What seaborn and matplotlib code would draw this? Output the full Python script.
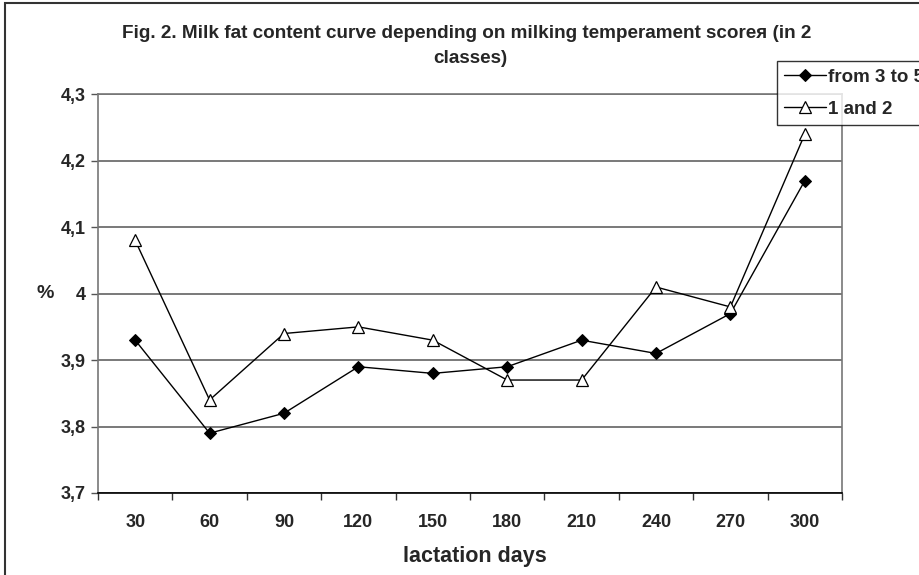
import numpy as np
import pandas as pd
import matplotlib
matplotlib.use("Agg")
import matplotlib.pyplot as plt
import seaborn as sns
from matplotlib.patches import Rectangle

days = ["30", "60", "90", "120", "150", "180", "210", "240", "270", "300"]
from_3_to_5 = [3.93, 3.79, 3.82, 3.89, 3.88, 3.89, 3.93, 3.91, 3.97, 4.17]
one_and_two = [4.08, 3.84, 3.94, 3.95, 3.93, 3.87, 3.87, 4.01, 3.98, 4.24]
y_ticks = [3.7, 3.8, 3.9, 4.0, 4.1, 4.2, 4.3]
y_tick_labels = ["3,7", "3,8", "3,9", "4", "4,1", "4,2", "4,3"]
series_names = ["from 3 to 5", "1 and 2"]
title_line1 = "Fig. 2. Milk fat content curve depending on milking temperament scoreя (in 2"
title_line2 = "classes)"

sns.set_theme(style="white")
plt.rcParams["font.family"] = ["Liberation Sans", "DejaVu Sans"]

W, H = 920, 575
fig = plt.figure(figsize=(9.2, 5.75), dpi=100)
ax = fig.add_axes([98 / W, 1 - 493 / H, (842 - 98) / W, (493 - 94.3) / H])

pos = np.arange(len(days))
df = pd.DataFrame({
    "pos": np.concatenate([pos, pos]),
    "val": from_3_to_5 + one_and_two,
    "series": [series_names[0]] * len(days) + [series_names[1]] * len(days),
})

sns.lineplot(data=df[df.series == series_names[0]], x="pos", y="val", ax=ax,
             color="black", lw=1, marker="D", markersize=6.5,
             markerfacecolor="black", markeredgecolor="black",
             label=series_names[0])
sns.lineplot(data=df[df.series == series_names[1]], x="pos", y="val", ax=ax,
             color="black", lw=1, marker="^", markersize=9,
             markerfacecolor="white", markeredgecolor="black", markeredgewidth=0.9,
             label=series_names[1])

ax.set_xlim(-0.5, len(days) - 0.5)
ax.set_ylim(3.7, 4.3)
ax.set_yticks(y_ticks)
ax.set_yticklabels(y_tick_labels, fontsize=13, fontweight="bold")
ax.yaxis.grid(True, color="#555555", lw=1.1)
ax.xaxis.grid(False)
ax.set_axisbelow(True)

ax.set_xticks(np.arange(-0.5, len(days), 1.0))
ax.set_xticklabels([])
ax.set_xticks(pos, minor=True)
ax.set_xticklabels(days, minor=True, fontsize=13, fontweight="bold")
ax.tick_params(axis="x", which="major", direction="out", length=5, width=1, color="#333333", bottom=True)
ax.tick_params(axis="x", which="minor", length=0, pad=15)
ax.tick_params(axis="y", direction="out", length=5, width=1, color="#555555", left=True, pad=4)

for s in ["left", "right", "top"]:
    ax.spines[s].set_color("#777777")
    ax.spines[s].set_linewidth(1.2)
ax.spines["bottom"].set_color("black")
ax.spines["bottom"].set_linewidth(1.2)

ax.set_xlabel("lactation days", fontsize=15.5, fontweight="bold")
ax.xaxis.set_label_coords(0.507, -0.133)
ax.set_ylabel("")
fig.text(45 / W, 1 - 294 / H, "%", fontsize=14, fontweight="bold", ha="center", va="center")

fig.text(467 / W, 1 - 38 / H, title_line1, fontsize=13.6, fontweight="bold",
         ha="center", va="baseline")
fig.text(470 / W, 1 - 63 / H, title_line2, fontsize=13.6, fontweight="bold",
         ha="center", va="baseline")

leg = ax.legend(loc="upper left", bbox_to_anchor=(777 / W, 1 - 61 / H),
                bbox_transform=fig.transFigure, frameon=True, fancybox=False,
                prop={"weight": "bold", "size": 13.5}, handlelength=2.2,
                handletextpad=0.1, borderpad=0.4, labelspacing=0.8, borderaxespad=0)
leg.get_frame().set_edgecolor("black")
leg.get_frame().set_linewidth(1.0)

fig.patches.append(Rectangle((5 / W, -0.2), 1.5, 1.2 - 3 / H, transform=fig.transFigure,
                             fill=False, edgecolor="#333333", lw=1.5, figure=fig))

fig.savefig("out.png", dpi=100)
